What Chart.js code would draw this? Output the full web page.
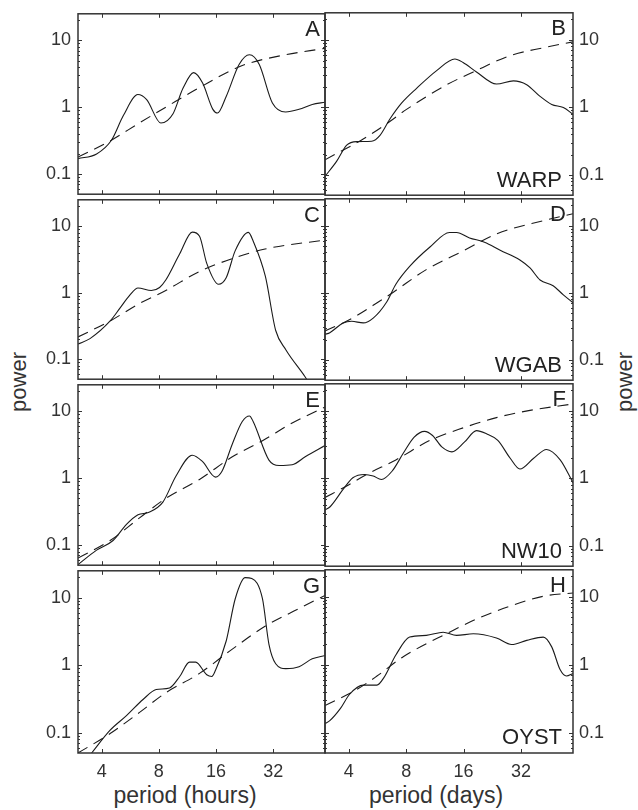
<!DOCTYPE html>
<html><head><meta charset="utf-8">
<script src="https://cdn.jsdelivr.net/npm/chart.js@4/dist/chart.umd.min.js"></script>
<style>
html,body{margin:0;padding:0;background:#fff;}
body{width:638px;height:810px;position:relative;overflow:hidden;font-family:"Liberation Sans",Arial,sans-serif;color:#333;}
canvas{position:absolute;}
.t{position:absolute;white-space:nowrap;color:#333;}
</style></head><body>
<div class="t" style="left:185px;top:783.5px;font-size:23px;line-height:23px;transform:translateX(-50%);">period (hours)</div>
<div class="t" style="left:436px;top:783.5px;font-size:23px;line-height:23px;transform:translateX(-50%);">period (days)</div>
<div class="t" style="left:19px;top:382px;font-size:22px;line-height:22px;transform:translate(-50%,-50%) rotate(-90deg);">power</div>
<div class="t" style="left:625px;top:382px;font-size:22px;line-height:22px;transform:translate(-50%,-50%) rotate(-90deg);">power</div>
<script>
// ---- data: [period, power] ----
const A_SPECTRUM=[[3,0.17],[3.76,0.2],[4.5,0.32],[5.2,0.75],[6.2,1.55],[6.9,1.3],[8.2,0.58],[9.5,0.8],[10.7,1.9],[12.2,3.3],[13.6,2.3],[15.4,0.93],[16.3,0.82],[18.1,1.45],[21.2,4.4],[24,6.1],[27,4.4],[31.7,1.16],[37.2,0.85],[43.8,0.93],[51.4,1.1],[60,1.19]];
const A_FIT=[[3,0.18],[4.4,0.31],[6.3,0.58],[8.7,1.0],[13,1.95],[22,4.2],[35,5.9],[60,7.6]];
const B_SPECTRUM=[[3,0.095],[3.45,0.158],[3.9,0.275],[4.4,0.31],[5.27,0.315],[5.83,0.385],[6.57,0.67],[7.58,1.16],[9.07,1.91],[11.6,3.52],[14.4,5.19],[15.9,4.6],[18.7,3.33],[23.8,2.21],[29.2,2.46],[34.3,2.16],[40.3,1.45],[46.4,1.1],[53.4,0.99],[60,0.79]];
const B_FIT=[[3,0.167],[4.76,0.34],[6.32,0.57],[8.03,0.93],[13,2.14],[18,3.33],[28,5.8],[41.9,7.6],[60,9.3]];
const C_SPECTRUM=[[3,0.169],[3.47,0.204],[4.43,0.376],[4.99,0.586],[5.61,0.91],[6.21,1.18],[7.3,1.08],[8.07,1.2],[8.7,1.55],[10.3,3.85],[12,8.17],[13.1,7.08],[14.3,2.76],[16.5,1.34],[18.1,1.68],[20.2,4.3],[23.7,8.1],[25.1,6.0],[29.1,1.77],[33,0.27],[37.3,0.139],[47.2,0.054],[52,0.035],[60,0.02]];
const C_FIT=[[3,0.216],[4.43,0.376],[6.33,0.69],[8.7,1.08],[13.1,2.09],[19.5,3.26],[29,4.55],[60,6.2]];
const D_SPECTRUM=[[3,0.24],[3.18,0.255],[3.74,0.356],[4.14,0.376],[4.76,0.356],[5.37,0.42],[6.32,0.73],[7.06,1.34],[8.34,2.47],[10.66,4.8],[13.5,7.9],[14.7,7.9],[17.2,6.55],[20.6,5.66],[24.9,4.3],[31.6,3.08],[35.7,2.34],[40.3,1.55],[47.2,1.27],[53.4,0.93],[60,0.71]];
const D_FIT=[[3,0.27],[4.05,0.4],[5.37,0.65],[6.85,1.02],[10.2,2.21],[16.2,4.3],[23.8,7.5],[41.9,11.8],[60,15]];
const E_SPECTRUM=[[3,0.051],[3.76,0.084],[4.59,0.117],[5.4,0.204],[6.21,0.284],[7.1,0.31],[8.4,0.44],[9.85,1.08],[12,2.21],[13.6,1.77],[15.9,1.04],[17.2,1.27],[19.5,3.26],[22,7.07],[24,8.55],[25.1,7.07],[30.4,1.87],[34.4,1.55],[40.3,1.59],[47.2,2.09],[60,3.08]];
const E_FIT=[[3,0.064],[4.43,0.117],[6.33,0.255],[8.7,0.5],[13.1,0.96],[19.5,2.09],[28.1,3.64],[40.3,6.7],[60,11.6]];
const F_SPECTRUM=[[3,0.34],[3.18,0.376],[3.74,0.69],[4.2,1.02],[4.85,1.14],[5.37,1.08],[5.93,0.96],[6.74,1.27],[7.72,2.34],[8.81,4.06],[9.98,4.95],[11,4.3],[12.3,2.91],[13.9,2.46],[16.2,3.45],[18.7,5.07],[21.1,4.55],[24.2,3.64],[28.1,1.98],[31.6,1.37],[37.3,1.98],[43.6,2.67],[51.4,1.87],[60,0.86]];
const F_FIT=[[3,0.52],[3.9,0.77],[4.96,1.14],[7.06,1.87],[10.66,3.64],[16.2,5.66],[23.8,7.9],[35.7,10.1],[60,12.6]];
const G_SPECTRUM=[[3,0.028],[3.54,0.05],[4.43,0.109],[5.4,0.179],[6.6,0.31],[7.74,0.435],[9.1,0.46],[10.3,0.68],[11.6,1.11],[12.5,1.11],[14.3,0.72],[15.2,0.68],[15.9,0.84],[18.1,2.28],[20.2,9.64],[22.8,19.8],[24.7,19.2],[28.1,9.64],[30.4,2.04],[33,1.05],[37.3,0.89],[43.8,0.95],[51.4,1.24],[60,1.39]];
const G_FIT=[[3,0.05],[4.43,0.097],[6.33,0.2],[8.7,0.39],[13.1,0.755],[19.5,1.73],[29,3.77],[43.8,6.9],[60,10.8]];
const H_SPECTRUM=[[3,0.136],[3.18,0.15],[3.6,0.223],[4.05,0.37],[4.76,0.5],[5.62,0.5],[6.1,0.64],[7.06,1.39],[8.34,2.55],[10.2,2.7],[12.5,3.01],[14.7,2.7],[18,2.85],[23.8,2.47],[28.6,1.98],[34.3,2.28],[41.9,2.55],[46.4,1.83],[51.4,0.84],[55.4,0.68],[60,0.74]];
const H_FIT=[[3,0.25],[4.4,0.43],[5.62,0.68],[7.72,1.31],[13.5,3.01],[18.7,4.7],[28.1,7.3],[41.9,10.2],[60,11.4]];

const LETTERS=['A','B','C','D','E','F','G','H'];
const STATIONS=['WARP','WGAB','NW10','OYST'];
const X_TICKS=[4,8,16,32];
const Y_TICKS=[0.1,1,10];
const Y_MINOR=[0.06,0.07,0.08,0.09,0.2,0.3,0.4,0.5,0.6,0.7,0.8,0.9,2,3,4,5,6,7,8,9,20];
const X_RANGE=[3,60];
const Y_RANGE=[0.05,25];

const SPECTRA=[A_SPECTRUM,B_SPECTRUM,C_SPECTRUM,D_SPECTRUM,E_SPECTRUM,F_SPECTRUM,G_SPECTRUM,H_SPECTRUM];
const FITS=[A_FIT,B_FIT,C_FIT,D_FIT,E_FIT,F_FIT,G_FIT,H_FIT];

const FONT='"Liberation Sans", Arial, sans-serif';
const ROW_TOP=[11,197,382,568];
const ROW_BOTTOM=[197,382,568,753];

const deco={
  id:'deco',
  afterDatasetsDraw(chart,args,o){
    const {ctx,chartArea:a,scales:{x,y}}=chart;
    ctx.save();
    ctx.strokeStyle='#333';
    ctx.lineWidth=1;
    ctx.beginPath();
    for(const v of X_TICKS){
      const px=Math.round(x.getPixelForValue(v))+0.5;
      ctx.moveTo(px,a.top);ctx.lineTo(px,a.top+4);
      ctx.moveTo(px,a.bottom);ctx.lineTo(px,a.bottom-4);
    }
    for(const v of Y_TICKS){
      const py=Math.round(y.getPixelForValue(v))+0.5;
      ctx.moveTo(a.left,py);ctx.lineTo(a.left+4,py);
      ctx.moveTo(a.right,py);ctx.lineTo(a.right-4,py);
    }
    for(const v of Y_MINOR){
      const py=Math.round(y.getPixelForValue(v))+0.5;
      ctx.moveTo(a.left,py);ctx.lineTo(a.left+2,py);
      ctx.moveTo(a.right,py);ctx.lineTo(a.right-2,py);
    }
    ctx.stroke();
    ctx.lineWidth=1.5;
    ctx.strokeRect(a.left,a.top,a.right-a.left,a.bottom-a.top);
    ctx.fillStyle='#222';
    ctx.font='22px '+FONT;
    ctx.textAlign='right';
    ctx.textBaseline='alphabetic';
    ctx.fillText(o.letter,a.right-(o.left?5:7),a.top+22.5);
    if(o.station) ctx.fillText(o.station,a.right-11,a.bottom-8.7);
    ctx.restore();
  }
};

LETTERS.forEach((letter,i)=>{
  const col=i%2,row=Math.floor(i/2);
  const left=col===0,last=row===3;
  const top=ROW_TOP[row],h=ROW_BOTTOM[row]-ROW_TOP[row];
  const padTop=15,padBot=last?0:15,xh=last?57:0;
  const cw=left?330:318,cx=left?0:320;
  const ch=padTop+h+padBot+xh;
  const cv=document.createElement('canvas');
  cv.width=cw;cv.height=ch;
  cv.style.left=cx+'px';cv.style.top=(top-padTop)+'px';
  cv.style.width=cw+'px';cv.style.height=ch+'px';
  document.body.appendChild(cv);
  new Chart(cv,{
    type:'line',
    data:{datasets:[
      {data:SPECTRA[i].map(([x,y])=>({x,y})),borderColor:'#1a1a1a',borderWidth:1.1,pointRadius:0,cubicInterpolationMode:'monotone',fill:false},
      {data:FITS[i].map(([x,y])=>({x,y})),borderColor:'#1a1a1a',borderWidth:1.1,borderDash:[11,7],pointRadius:0,cubicInterpolationMode:'monotone',fill:false}
    ]},
    options:{
      responsive:false,animation:false,devicePixelRatio:1,
      layout:{padding:{top:padTop,bottom:padBot,left:left?0:5,right:left?5:0}},
      plugins:{legend:{display:false},tooltip:{enabled:false},
        deco:{letter,left,station:left?null:STATIONS[row]}},
      scales:{
        x:{type:'logarithmic',min:X_RANGE[0],max:X_RANGE[1],display:last,position:'bottom',
          afterBuildTicks:s=>{s.ticks=X_TICKS.map(v=>({value:v}));},
          afterFit:s=>{s.height=xh;},
          grid:{display:false,drawTicks:false},border:{display:false},
          ticks:{font:{family:FONT,size:18},color:'#333',padding:8,maxRotation:0,autoSkip:false,callback:v=>String(v)}},
        y:{type:'logarithmic',min:Y_RANGE[0],max:Y_RANGE[1],position:left?'left':'right',
          afterBuildTicks:s=>{s.ticks=Y_TICKS.map(v=>({value:v}));},
          afterFit:s=>{s.width=left?78:65;},
          grid:{display:false,drawTicks:false},border:{display:false},
          ticks:{font:{family:FONT,size:18},color:'#333',padding:left?7:6,autoSkip:false,callback:v=>String(v)}}
      }
    },
    plugins:[deco]
  });
});
</script>
</body></html>
